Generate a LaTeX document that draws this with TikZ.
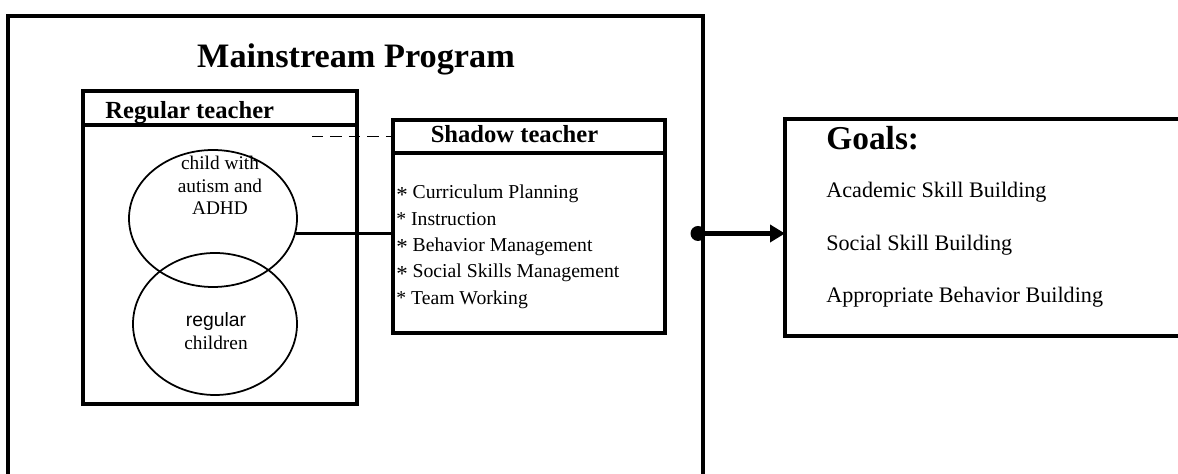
\documentclass[tikz,border=0pt]{standalone}
\usepackage{fontspec}
\setmainfont{Liberation Serif}
\newfontfamily\helv{Liberation Sans}
\usetikzlibrary{shapes.geometric, arrows.meta}

% asterisk set a little lower and larger than the text one
\newcommand\midast{\raisebox{-0.35ex}{\fontsize{13}{13}\selectfont *}}

\tikzset{
  box/.style = {draw, rectangle, line width = 2.2pt, inner sep = 0pt,
    outer sep = 0pt, anchor = north west},
  group/.style = {draw, ellipse, line width = 1pt, inner sep = 0pt},
  head/.style = {anchor = base west, inner sep = 0pt,
    font = \fontsize{14}{16}\selectfont\bfseries},
  task/.style = {anchor = base west, inner sep = 0pt,
    font = \fontsize{11.2}{13}\selectfont},
  goal/.style = {anchor = base west, inner sep = 0pt,
    font = \fontsize{12.6}{14}\selectfont},
}

\begin{document}
\begin{tikzpicture}[x = 2cm, y = 2cm]

  \useasboundingbox (0, 0) rectangle (11.78, 4.74);
  \clip (0, 0) rectangle (11.78, 4.74);

  % program frame, open at the bottom
  \node[box, minimum width = 13.9cm, minimum height = 10cm]
    (program) at (0.08, 4.58) {};
  \node[anchor = base, inner sep = 0pt,
    font = \fontsize{19.5}{22}\selectfont\bfseries]
    (title) at (3.56, 4.06) {Mainstream Program};

  % regular teacher and the two groups of children
  \node[box, minimum width = 5.48cm, minimum height = 0.68cm]
    (regularhead) at (0.83, 3.83) {};
  \node[box, minimum width = 5.48cm, minimum height = 5.58cm]
    (regularbox) at (0.83, 3.49) {};
  \node[head] (regulartitle) at (1.05, 3.55) {Regular teacher};

  \node[group, minimum width = 3.36cm, minimum height = 2.74cm]
    (childellipse) at (2.13, 2.555) {};
  \node[group, minimum width = 3.28cm, minimum height = 2.84cm]
    (classellipse) at (2.15, 1.50) {};

  \node[align = center, inner sep = 0pt, font = \fontsize{11}{12.8}\selectfont]
    (childtext) at (2.20, 2.885) {child with\\autism and\\ADHD};
  \node[align = center, inner sep = 0pt, font = \fontsize{11}{13}\selectfont]
    (classtext) at (2.16, 1.425) {{\helv regular}\\children};

  % shadow teacher and its tasks
  \node[box, minimum width = 5.44cm, minimum height = 0.66cm]
    (shadowhead) at (3.93, 3.54) {};
  \node[box, minimum width = 5.44cm, minimum height = 3.6cm]
    (shadowbox) at (3.93, 3.21) {};
  \node[anchor = base, inner sep = 0pt,
    font = \fontsize{14}{16}\selectfont\bfseries]
    (shadowtitle) at (5.145, 3.31) {Shadow teacher};

  \foreach \t [count = \i from 0] in {
    {\midast{} Curriculum Planning}, {* Instruction},
    {\midast{} Behavior Management}, {\midast{} Social Skills Management},
    {* Team Working}} {
    \node[task] (task\i) at (3.96, 2.75 - 0.263 * \i) {\t};
  }

  % links between the teachers
  \coordinate (dashstart) at (3.12, 3.375);
  \draw[line width = 0.9pt, dash pattern = on 6.5pt off 4pt]
    (dashstart) -- (dashstart -| shadowhead.west);
  \draw[line width = 1.7pt]
    (childellipse.-10) -- (childellipse.-10 -| shadowbox.west);

  % goals
  \node[box, minimum width = 8.9cm, minimum height = 4.34cm]
    (goals) at (7.85, 3.55) {};
  \node[anchor = base west, inner sep = 0pt,
    font = \fontsize{19}{22}\selectfont\bfseries]
    (goalstitle) at (8.26, 3.24) {Goals:};

  \foreach \g [count = \i from 0] in {
    Academic Skill Building, Social Skill Building,
    Appropriate Behavior Building} {
    \node[goal] (goal\i) at (8.26, 2.76 - 0.525 * \i) {\g};
  }

  \coordinate (dot) at ([yshift = -0.12cm] program.east |- goals.west);
  \fill ([xshift = -0.1cm] dot) circle (0.075);
  \draw[line width = 2.8pt, -{Triangle[length = 0.3cm, width = 0.34cm]}]
    (dot) -- (dot -| goals.west);

\end{tikzpicture}
\end{document}
